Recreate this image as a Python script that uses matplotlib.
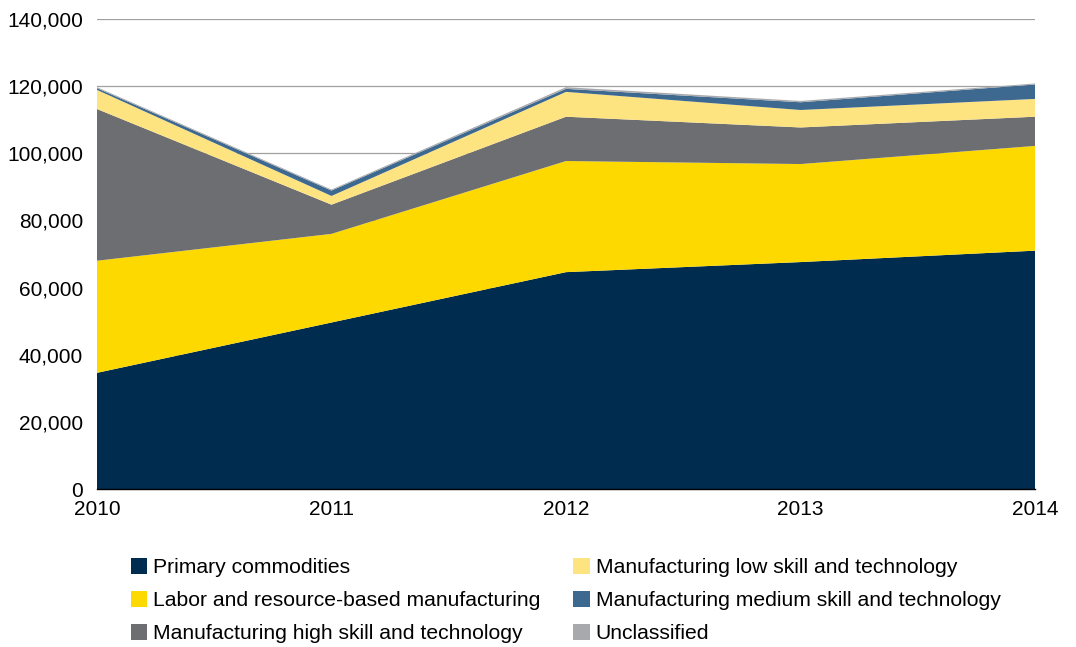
import matplotlib
matplotlib.use("Agg")
import matplotlib.pyplot as plt
import numpy as np
from matplotlib.ticker import FuncFormatter

years = [2010, 2011, 2012, 2013, 2014]
primary = [34.6, 49.6, 64.6, 67.6, 71.0]
labor = [33.4, 26.4, 33.1, 29.2, 31.2]
high_skill = [45.2, 8.7, 13.2, 10.9, 8.7]
low_skill = [5.7, 2.6, 7.4, 5.2, 5.3]
medium_skill = [0.5, 1.6, 0.9, 2.3, 4.3]
unclassified = [0.3, 0.3, 0.5, 0.4, 0.3]

labels = ["Primary commodities", "Labor and resource-based manufacturing",
          "Manufacturing high skill and technology",
          "Manufacturing low skill and technology",
          "Manufacturing medium skill and technology", "Unclassified"]
colors = ["#002d4f", "#fdd900", "#6d6e71", "#fee381", "#3d6890", "#a7a9ac"]

plt.rcParams["font.family"] = ["Liberation Sans", "DejaVu Sans"]

series = np.array([primary, labor, high_skill, low_skill, medium_skill, unclassified]) * 1000

fig = plt.figure(figsize=(10.76, 6.47), dpi=100)
ax = fig.add_axes([0.0901, 0.2442, 0.962 - 0.0901, 0.9706 - 0.2442])
ax.stackplot(years, series, colors=colors, labels=labels, lw=0)

ax.set_xlim(2010, 2014)
ax.set_ylim(0, 140000)
ax.set_yticks(np.arange(0, 140001, 20000))
ax.set_xticks(years)
ax.yaxis.set_major_formatter(FuncFormatter(lambda v, p: f"{v:,.0f}"))
ax.tick_params(axis="both", length=0, labelsize=15, colors="black")
ax.tick_params(axis="x", pad=8)
ax.tick_params(axis="y", pad=10)
ax.grid(axis="y", color="#a0a0a0", lw=0.9)
ax.set_axisbelow(True)
for sp in ("top", "right", "left"):
    ax.spines[sp].set_visible(False)
ax.spines["bottom"].set_color("black")
ax.spines["bottom"].set_linewidth(1.0)

handles, labs = ax.get_legend_handles_labels()
fig.legend(handles, labs, ncol=2, loc="upper left", bbox_to_anchor=(131 / 1076, 1 - 558 / 647),
           frameon=False, fontsize=15.2, handlelength=0.76, handleheight=0.76,
           handletextpad=0.3, columnspacing=1.55, labelspacing=0.66,
           borderpad=0, borderaxespad=0)

fig.savefig("out.png", dpi=100)
